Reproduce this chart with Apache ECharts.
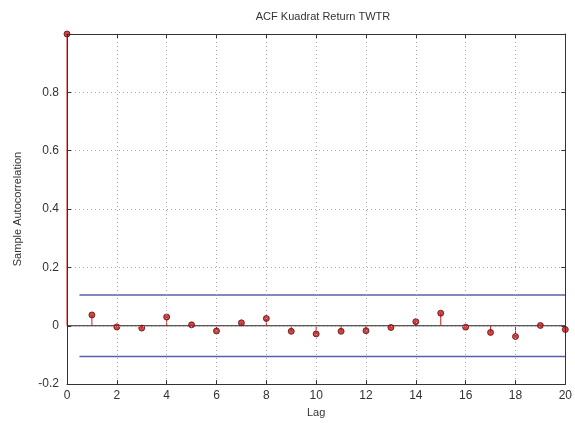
<!DOCTYPE html>
<html><head><meta charset="utf-8">
<script src="https://cdn.jsdelivr.net/npm/echarts@6/dist/echarts.min.js"></script>
<style>html,body{margin:0;padding:0;background:#fff}#c{width:575px;height:423px}</style>
</head><body><div id="c"></div>
<script>
const lags = [0,1,2,3,4,5,6,7,8,9,10,11,12,13,14,15,16,17,18,19,20];
const acf = [1.0,0.037,-0.004,-0.008,0.030,0.003,-0.018,0.010,0.025,-0.019,-0.028,-0.019,-0.017,-0.006,0.014,0.043,-0.005,-0.023,-0.037,0.001,-0.013];
const boundLags = [0.5, 20];
const upperBound = [0.105, 0.105];
const lowerBound = [-0.105, -0.105];
const yTicks = [-0.2, 0, 0.2, 0.4, 0.6, 0.8, 1.0];

const pts = lags.map((l,i)=>[l, acf[i]]);
const font = 'Liberation Sans, Arial, sans-serif';
const chart = echarts.init(document.getElementById('c'));
const axisCommon = {
  z:10,
  axisLine:{show:true,onZero:false,lineStyle:{color:'#333',width:1}},
  axisTick:{show:true,inside:true,length:4,lineStyle:{color:'#333'}},
};
chart.setOption({
  animation:false,
  title:{text:'ACF Kuadrat Return TWTR',left:318,top:6,textAlign:'center',
    textStyle:{fontSize:11,fontWeight:'normal',color:'#333',fontFamily:font}},
  grid:{left:67,right:7,top:34,bottom:37},
  xAxis:[{type:'value',min:0,max:20,interval:2,...axisCommon,
    name:'Lag',nameLocation:'middle',nameGap:20,
    nameTextStyle:{fontSize:11,color:'#333',fontFamily:font},
    axisLabel:{fontSize:12,color:'#333',fontFamily:font,margin:6},
    splitLine:{show:true,lineStyle:{color:'#aaa',type:[1,3],width:1}}},
   {type:'value',position:'top',min:0,max:20,interval:2,...axisCommon,
    axisLabel:{show:false},splitLine:{show:false}}],
  yAxis:[{type:'value',min:-0.2,max:1.0,interval:0.2,...axisCommon,
    name:'Sample Autocorrelation',nameLocation:'middle',nameGap:44,
    nameTextStyle:{fontSize:11,color:'#333',fontFamily:font},
    axisLabel:{fontSize:12,color:'#333',fontFamily:font,margin:8,
      formatter:v=>{ if (Math.abs(v-1)<1e-9) return ''; const r=Math.round(v*10)/10; return r===0?'0':String(r);} },
    splitLine:{show:true,lineStyle:{color:'#aaa',type:[1,3],width:1}}},
   {type:'value',position:'right',min:-0.2,max:1.0,interval:0.2,...axisCommon,
    axisLabel:{show:false},splitLine:{show:false}}],
  series:[
    {type:'line',data:[[0,0],[20,0]],symbol:'none',lineStyle:{color:'#222',width:1.2},z:3,silent:true},
    {type:'line',data:boundLags.map((l,i)=>[l,upperBound[i]]),symbol:'none',lineStyle:{color:'#5a5fa8',width:1.5},z:3},
    {type:'line',data:boundLags.map((l,i)=>[l,lowerBound[i]]),symbol:'none',lineStyle:{color:'#5a5fa8',width:1.5},z:3},
    {type:'custom',data:pts,z:4,renderItem:(params,api)=>{
      const a=api.coord([api.value(0),0]); const b=api.coord([api.value(0),api.value(1)]);
      return {type:'line',shape:{x1:a[0],y1:a[1],x2:b[0],y2:b[1]},style:{stroke:'#d42020',lineWidth:1}};
    }},
    {type:'scatter',data:pts,symbol:'circle',symbolSize:6,z:5,
      itemStyle:{color:'#c41818',borderColor:'#5a1010',borderWidth:1}}
  ]
});
</script></body></html>
